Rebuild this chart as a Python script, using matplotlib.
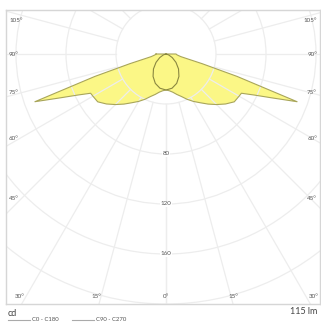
import numpy as np
import matplotlib.pyplot as plt
from matplotlib.patches import Circle
from matplotlib.lines import Line2D

plt.rcParams['font.family'] = ['Lato', 'DejaVu Sans']

W, H = 321, 323

# luminous intensity distribution (cd)
gamma_c0 = [0, 5, 10, 15, 20, 25, 30, 35, 40, 45, 50, 55, 60, 62.5, 65, 67.5,
            70, 72.5, 75, 77.5, 80, 85, 90]
c0_c180 = [28.8, 29.5, 31, 33.5, 36.2, 40, 43.8, 47.6, 52.3, 57.2, 62.2, 66.7,
           67.5, 68, 77.6, 91.7, 111.6, 59.6, 30, 17, 12, 9, 8]
gamma_c90 = [0, 10, 20, 30, 40, 50, 60, 70, 80, 90]
c90_c270 = [28.8, 27.8, 25.0, 20.7, 15.6, 10.4, 5.8, 2.4, 0.5, 0]

rings = [40, 80, 120, 160, 200]
ring_labels = [80, 120, 160]
ray_angles = list(range(0, 181, 15))
side_labels = ['105°', '90°', '75°', '60°', '45°']
side_label_y = [20, 55, 93, 138, 199]
bottom_labels = ['30°', '15°', '0°', '15°', '30°']
bottom_label_x = [20, 96, 166, 233, 314]
flux = '115 lm'

# geometry (pixels)
cx, cy, scale = 166, 54, 1.25
box = (6, 10, 320, 304)  # left, top, right, bottom

fig = plt.figure(figsize=(W / 100, H / 100), dpi=100)
ax = fig.add_axes([box[0] / W, 1 - box[3] / H, (box[2] - box[0]) / W, (box[3] - box[1]) / H])
ax.set_xlim((box[0] - cx) / scale, (box[2] - cx) / scale)
ax.set_ylim(-(box[3] - cy) / scale, (cy - box[1]) / scale)
ax.set_xticks([])
ax.set_yticks([])
for s in ax.spines.values():
    s.set_color('#d6d6d6')
    s.set_linewidth(1.0)

grid_col = '#ededed'
for r in rings:
    ax.add_patch(Circle((0, 0), r, fill=False, ec=grid_col, lw=0.9, zorder=2))
r0 = rings[0]
for a in ray_angles:
    for sgn in (-1, 1):
        t = np.radians(a)
        ax.plot([sgn * r0 * np.sin(t), sgn * 400 * np.sin(t)], [-r0 * np.cos(t), -400 * np.cos(t)],
                color=grid_col, lw=0.9, zorder=2)


def polar_curve(g, vals):
    g = np.radians(np.array(g))
    v = np.array(vals)
    xs = np.concatenate([-(v * np.sin(g))[::-1], v * np.sin(g)])
    ys = np.concatenate([-(v * np.cos(g))[::-1], -v * np.cos(g)])
    return xs, ys


x0, y0 = polar_curve(gamma_c0, c0_c180)
ax.fill(x0, y0, color='#fbf77c', alpha=0.92, zorder=1, lw=0)
ax.plot(np.append(x0, x0[0]), np.append(y0, y0[0]), color='#a8a55a', lw=0.8, zorder=3)
x9, y9 = polar_curve(gamma_c90, c90_c270)
ax.plot(x9, y9, color='#8a8740', lw=0.8, zorder=3)

for r in ring_labels:
    ax.text(0, -r, str(r), ha='center', va='center', fontsize=4.5, color='#555555', zorder=4,
            bbox=dict(fc='white', ec='none', pad=0.3))


def fpos(x, y):
    return x / W, 1 - y / H


txt = dict(fontsize=4.5, color='#555555', va='center')
for lab, y in zip(side_labels, side_label_y):
    fig.text(*fpos(9, y), lab, ha='left', **txt)
    fig.text(*fpos(317, y), lab, ha='right', **txt)
for lab, x in zip(bottom_labels, bottom_label_x):
    fig.text(*fpos(x, 297), lab, ha='center', **txt)

fig.text(*fpos(8, 313), 'cd', fontsize=6.5, color='#444444', ha='left', va='center')
fig.text(*fpos(317, 312), flux, fontsize=6.5, color='#444444', ha='right', va='center')

fig.add_artist(Line2D([8 / W, 30 / W], [1 - 320 / H] * 2, color='#aaaaaa', lw=0.8))
fig.add_artist(Line2D([72 / W, 94 / W], [1 - 320 / H] * 2, color='#aaaaaa', lw=0.8))
fig.text(*fpos(32, 319.5), 'C0 - C180', fontsize=4.3, color='#555555', ha='left', va='center')
fig.text(*fpos(96, 319.5), 'C90 - C270', fontsize=4.3, color='#555555', ha='left', va='center')

fig.savefig('out.png', dpi=100, facecolor='white')
